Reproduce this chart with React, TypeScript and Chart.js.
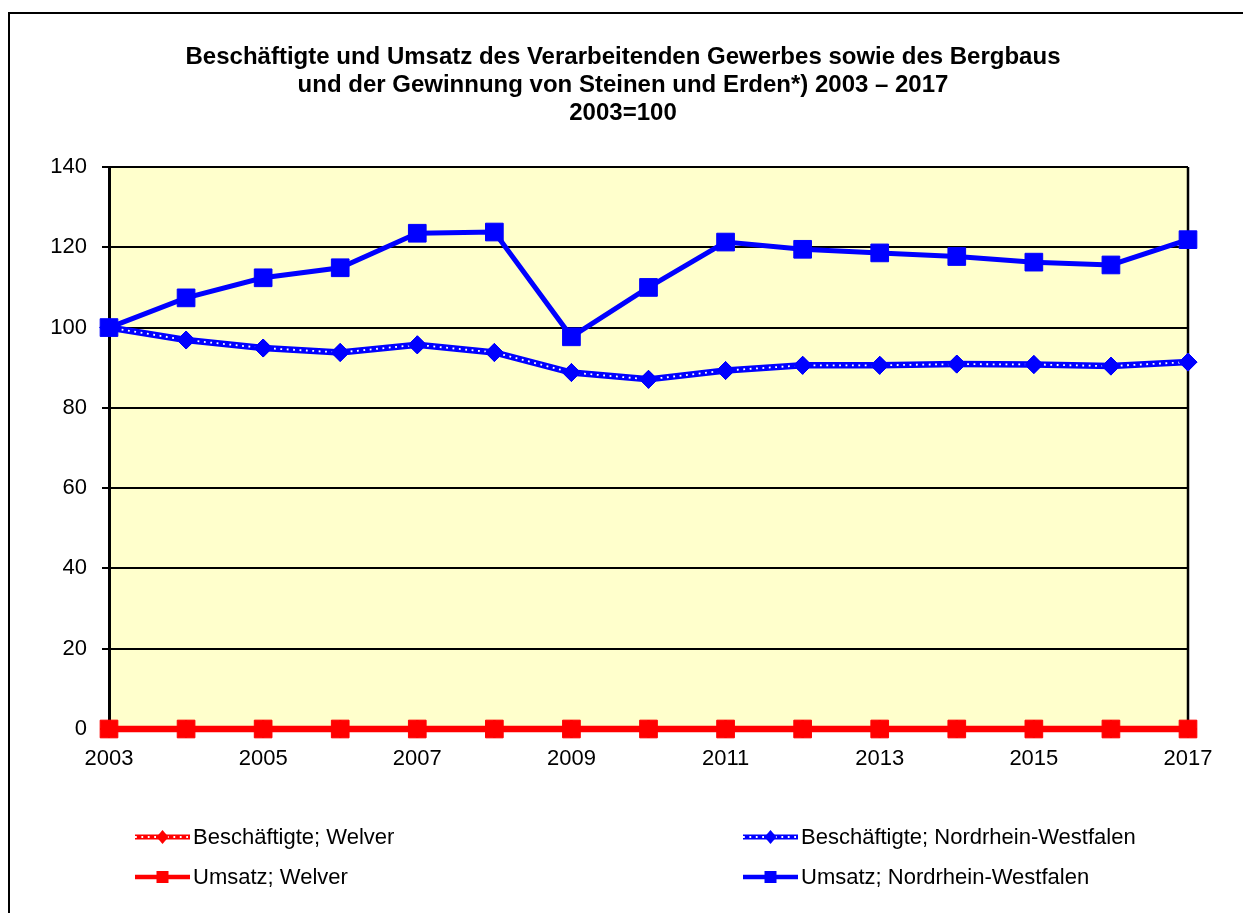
import React, { useEffect, useRef } from "react";
import { Chart, registerables } from "chart.js";

Chart.register(...registerables);

const years = ["2003", "2004", "2005", "2006", "2007", "2008", "2009", "2010", "2011", "2012", "2013", "2014", "2015", "2016", "2017"];
const shownYearLabels = ["2003", "2005", "2007", "2009", "2011", "2013", "2015", "2017"];
const yTickValues = [0, 20, 40, 60, 80, 100, 120, 140];

const beschaeftigteWelver = [0, 0, 0, 0, 0, 0, 0, 0, 0, 0, 0, 0, 0, 0, 0];
const umsatzWelver = [0, 0, 0, 0, 0, 0, 0, 0, 0, 0, 0, 0, 0, 0, 0];
const beschaeftigteNRW = [100, 96.9, 94.9, 93.8, 95.7, 93.8, 88.8, 87.1, 89.3, 90.6, 90.6, 90.9, 90.8, 90.4, 91.4];
const umsatzNRW = [100, 107.4, 112.4, 114.9, 123.5, 123.8, 97.7, 110.0, 121.3, 119.5, 118.6, 117.7, 116.3, 115.6, 121.9];

const titleLines = [
  "Beschäftigte und Umsatz des Verarbeitenden Gewerbes sowie des Bergbaus",
  "und der Gewinnung von Steinen und Erden*) 2003 – 2017",
  "2003=100",
];

const RED = "#FF0000";
const BLUE = "#0000FF";
const FONT = "Arial, 'Liberation Sans', sans-serif";

const legendItems = [
  { label: "Beschäftigte; Welver", color: RED, dotted: true, shape: "rectRot", x: 135, y: 837 },
  { label: "Beschäftigte; Nordrhein-Westfalen", color: BLUE, dotted: true, shape: "rectRot", x: 743, y: 837 },
  { label: "Umsatz; Welver", color: RED, dotted: false, shape: "rect", x: 135, y: 877 },
  { label: "Umsatz; Nordrhein-Westfalen", color: BLUE, dotted: false, shape: "rect", x: 743, y: 877 },
];

function strokeDots(ctx: CanvasRenderingContext2D, pts: { x: number; y: number }[]) {
  ctx.save();
  ctx.strokeStyle = "#FFFFFF";
  ctx.lineWidth = 1.8;
  ctx.setLineDash([1.8, 4.6]);
  ctx.lineCap = "butt";
  ctx.beginPath();
  pts.forEach((p, i) => (i === 0 ? ctx.moveTo(p.x, p.y) : ctx.lineTo(p.x, p.y)));
  ctx.stroke();
  ctx.restore();
}

const decorPlugin = {
  id: "decor",
  beforeDraw(chart: any) {
    const { ctx, chartArea } = chart;
    ctx.save();
    ctx.fillStyle = "#FFFFFF";
    ctx.fillRect(0, 0, chart.width, chart.height);
    ctx.strokeStyle = "#000000";
    ctx.lineWidth = 2;
    ctx.strokeRect(9, 13, 1400, 1100);
    ctx.fillStyle = "#FFFFCC";
    ctx.fillRect(chartArea.left, chartArea.top, chartArea.right - chartArea.left, chartArea.bottom - chartArea.top);
    // title
    ctx.fillStyle = "#000000";
    ctx.font = `bold 24px ${FONT}`;
    ctx.textAlign = "center";
    ctx.textBaseline = "alphabetic";
    titleLines.forEach((t, i) => ctx.fillText(t, 623, 64 + i * 28));
    ctx.restore();
  },
  beforeDatasetsDraw(chart: any) {
    const { ctx, chartArea } = chart;
    ctx.save();
    ctx.strokeStyle = "#000000";
    ctx.lineWidth = 2.5;
    ctx.beginPath();
    ctx.moveTo(chartArea.right, chartArea.top);
    ctx.lineTo(chartArea.right, chartArea.bottom);
    ctx.stroke();
    ctx.restore();
  },
  afterDatasetDraw(chart: any, args: any) {
    const ds = chart.data.datasets[args.index];
    if (!ds.dottedLine) return;
    const meta = args.meta;
    const ctx = chart.ctx;
    strokeDots(ctx, meta.data.map((p: any) => ({ x: p.x, y: p.y })));
    meta.data.forEach((p: any) => p.draw(ctx, chart.chartArea));
  },
  afterDraw(chart: any) {
    const ctx = chart.ctx;
    ctx.save();
    legendItems.forEach((it) => {
      const x0 = it.x;
      const x1 = it.x + 55;
      const y = it.y;
      ctx.strokeStyle = it.color;
      ctx.lineWidth = it.dotted ? 5 : 4.5;
      ctx.setLineDash([]);
      ctx.beginPath();
      ctx.moveTo(x0, y);
      ctx.lineTo(x1, y);
      ctx.stroke();
      if (it.dotted) strokeDots(ctx, [{ x: x0, y }, { x: x1, y }]);
      const cx = (x0 + x1) / 2;
      ctx.fillStyle = it.color;
      ctx.beginPath();
      if (it.shape === "rect") {
        ctx.rect(cx - 6, y - 6, 12, 12);
      } else {
        ctx.moveTo(cx, y - 7);
        ctx.lineTo(cx + 6, y);
        ctx.lineTo(cx, y + 7);
        ctx.lineTo(cx - 6, y);
        ctx.closePath();
      }
      ctx.fill();
      ctx.fillStyle = "#000000";
      ctx.font = `22px ${FONT}`;
      ctx.textAlign = "left";
      ctx.textBaseline = "middle";
      ctx.fillText(it.label, x1 + 3, y + 1);
    });
    ctx.restore();
  },
};

export default function App() {
  const ref = useRef<HTMLCanvasElement | null>(null);
  useEffect(() => {
    if (!ref.current) return;
    const pointCommon = { pointBorderWidth: 1, clip: false as any };
    const chart = new Chart(ref.current, {
      type: "line",
      data: {
        labels: years,
        datasets: [
          {
            label: "Umsatz; Welver",
            data: umsatzWelver,
            borderColor: RED,
            backgroundColor: RED,
            pointBackgroundColor: RED,
            pointBorderColor: RED,
            borderWidth: 5,
            pointStyle: "rect",
            pointRadius: 12.5,
            ...pointCommon,
          },
          {
            label: "Beschäftigte; Welver",
            data: beschaeftigteWelver,
            borderColor: RED,
            backgroundColor: RED,
            pointBackgroundColor: RED,
            pointBorderColor: RED,
            borderWidth: 6.5,
            pointStyle: "rectRot",
            pointRadius: 9,
            dottedLine: true,
            ...pointCommon,
          } as any,
          {
            label: "Umsatz; Nordrhein-Westfalen",
            data: umsatzNRW,
            borderColor: BLUE,
            backgroundColor: BLUE,
            pointBackgroundColor: BLUE,
            pointBorderColor: BLUE,
            borderWidth: 5,
            pointStyle: "rect",
            pointRadius: 12.5,
            ...pointCommon,
          },
          {
            label: "Beschäftigte; Nordrhein-Westfalen",
            data: beschaeftigteNRW,
            borderColor: BLUE,
            backgroundColor: BLUE,
            pointBackgroundColor: BLUE,
            pointBorderColor: BLUE,
            borderWidth: 6.5,
            pointStyle: "rectRot",
            pointRadius: 9,
            dottedLine: true,
            ...pointCommon,
          } as any,
        ],
      },
      options: {
        responsive: false,
        animation: false,
        devicePixelRatio: 1,
        layout: { padding: { left: 0, right: 55, top: 167, bottom: 0 } },
        elements: { line: { tension: 0 } },
        plugins: {
          legend: { display: false },
          title: { display: false },
          tooltip: { enabled: false },
        },
        scales: {
          x: {
            type: "category",
            offset: false,
            grid: { display: false, drawTicks: false },
            border: { display: true, color: "#000000", width: 2 },
            ticks: {
              autoSkip: false,
              maxRotation: 0,
              color: "#000000",
              font: { family: FONT, size: 22 },
              padding: 17,
              callback: function (this: any, _v: any, i: number) {
                const lab = years[i];
                return shownYearLabels.includes(lab) ? lab : "";
              },
            },
            afterFit: (s: any) => {
              s.height = 184;
            },
          },
          y: {
            min: 0,
            max: 140,
            afterBuildTicks: (s: any) => {
              s.ticks = yTickValues.map((v) => ({ value: v }));
            },
            grid: { color: "#000000", lineWidth: 2, tickLength: 7 },
            border: { display: true, color: "#000000", width: 3 },
            ticks: {
              color: "#000000",
              font: { family: FONT, size: 22 },
              padding: 15,
            },
            afterFit: (s: any) => {
              s.width = 109;
            },
          },
        },
      },
      plugins: [decorPlugin],
    } as any);
    return () => chart.destroy();
  }, []);
  return (
    <canvas
      ref={ref}
      width={1243}
      height={913}
      style={{ position: "fixed", left: 0, top: 0, width: 1243, height: 913, display: "block" }}
    />
  );
}
